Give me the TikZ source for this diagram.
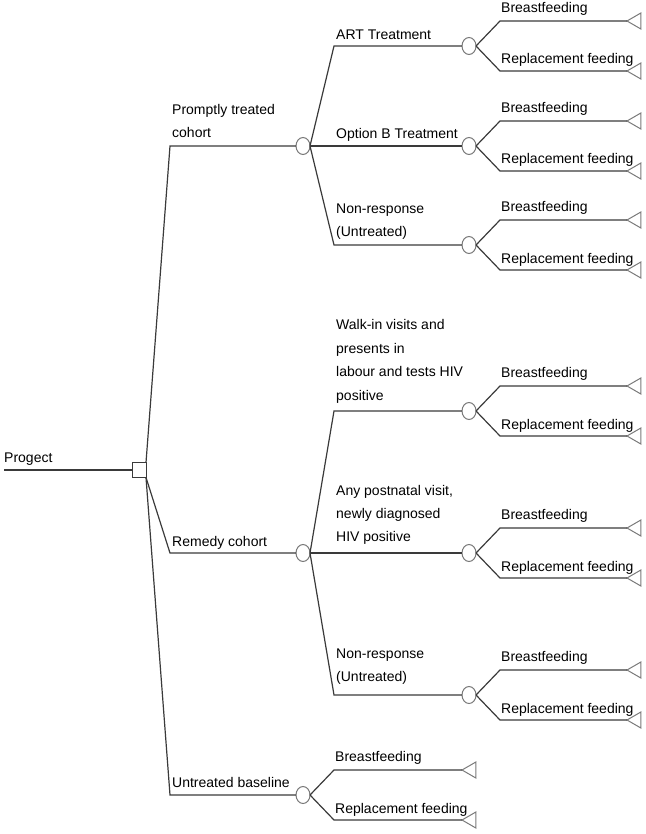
\documentclass[tikz,border=0pt]{standalone}
\usepackage{fontspec}
\setmainfont{Liberation Sans}
\usetikzlibrary{shapes.geometric}
\definecolor{linec}{HTML}{3A3A3A}
\definecolor{shapec}{HTML}{7A7A7A}
\begin{document}
\begin{tikzpicture}[x=1pt,y=-1pt,
  conn/.style={draw=linec, line width=1.2pt},
  chance/.style={draw=shapec, ellipse, minimum width=14pt, minimum height=17pt, inner sep=0pt, outer sep=0pt, line width=1pt, fill=white},
  decision/.style={draw=linec, rectangle, minimum width=14pt, minimum height=15pt, inner sep=0pt, outer sep=0pt, line width=1pt, fill=white},
  leaf/.style={draw=shapec, regular polygon, regular polygon sides=3, shape border rotate=90, minimum size=18.5pt, inner sep=0pt, outer sep=0pt, anchor=corner 1, line width=1pt},
  lbl/.style={anchor=base west, inner sep=0pt, align=left, font=\fontsize{14pt}{23pt}\selectfont, text=black},
]
\useasboundingbox (0,0) rectangle (645,834);

% root
\coordinate (start) at (4,470);
\node[decision] (root) at (139,470) {};
\draw[conn] (start) -- (root.west);
\node[lbl] (tRoot) at (4,462) {Progect};

% level 2
\coordinate (k1) at (170,146);
\node[chance] (c1) at (303,146) {};
\draw[conn] (root.north east) -- (k1) -- (c1.west);
\node[lbl] (t1) at (172,138) {Promptly treated\\cohort};

\coordinate (k2) at (170,553);
\node[chance] (c2) at (303,553) {};
\draw[conn] (root.south east) -- (k2) -- (c2.west);
\node[lbl] (t2) at (172,546.5) {Remedy cohort};

\coordinate (k3) at (170,795);
\node[chance] (c3) at (303,795) {};
\draw[conn] (root.south east) -- (k3) -- (c3.west);
\node[lbl] (t3) at (172,787.5) {Untreated baseline};

% level 3, group 1
\coordinate (k11) at (334,46);
\node[chance] (c11) at (469,46) {};
\draw[conn] (c1.east) -- (k11) -- (c11.west);
\node[lbl] (t11) at (336,40) {ART Treatment};

\node[chance] (c12) at (469,146) {};
\draw[conn] (c1.east) -- (c12.west);
\node[lbl] (t12) at (336,139) {Option B Treatment};

\coordinate (k13) at (334,245);
\node[chance] (c13) at (469,245) {};
\draw[conn] (c1.east) -- (k13) -- (c13.west);
\node[lbl] (t13) at (336,236.5) {Non-response\\(Untreated)};

% level 3, group 2
\coordinate (k21) at (334,411);
\node[chance] (c21) at (469,411) {};
\draw[conn] (c2.east) -- (k21) -- (c21.west);
\node[lbl, font=\fontsize{14pt}{23.4pt}\selectfont] (t21) at (336,400) {Walk-in visits and\\presents in\\labour and tests HIV\\positive};

\node[chance] (c22) at (469,553) {};
\draw[conn] (c2.east) -- (c22.west);
\node[lbl] (t22) at (336,541) {Any postnatal visit,\\newly diagnosed\\HIV positive};

\coordinate (k23) at (334,695);
\node[chance] (c23) at (469,695) {};
\draw[conn] (c2.east) -- (k23) -- (c23.west);
\node[lbl] (t23) at (336,681) {Non-response\\(Untreated)};

% leaves of level-3 chance nodes
\foreach \n/\y in {11/46,12/146,13/245,21/411,22/553,23/695}{
  \coordinate (u\n) at (500,\y-25);
  \coordinate (d\n) at (500,\y+25);
  \node[leaf] (tu\n) at (627,\y-25) {};
  \node[leaf] (td\n) at (627,\y+25) {};
  \draw[conn] (c\n.east) -- (u\n) -- (tu\n.corner 1);
  \draw[conn] (c\n.east) -- (d\n) -- (td\n.corner 1);
  \node[lbl] (bu\n) at (501,\y-33.5) {Breastfeeding};
  \node[lbl] (bd\n) at (501,\y+18) {Replacement feeding};
}

% leaves of untreated baseline
\coordinate (u3) at (334,770);
\coordinate (d3) at (334,820);
\node[leaf] (tu3) at (462,770) {};
\node[leaf] (td3) at (462,820) {};
\draw[conn] (c3.east) -- (u3) -- (tu3.corner 1);
\draw[conn] (c3.east) -- (d3) -- (td3.corner 1);
\node[lbl] (bu3) at (335,761.5) {Breastfeeding};
\node[lbl] (bd3) at (335,813) {Replacement feeding};
\end{tikzpicture}
\end{document}
